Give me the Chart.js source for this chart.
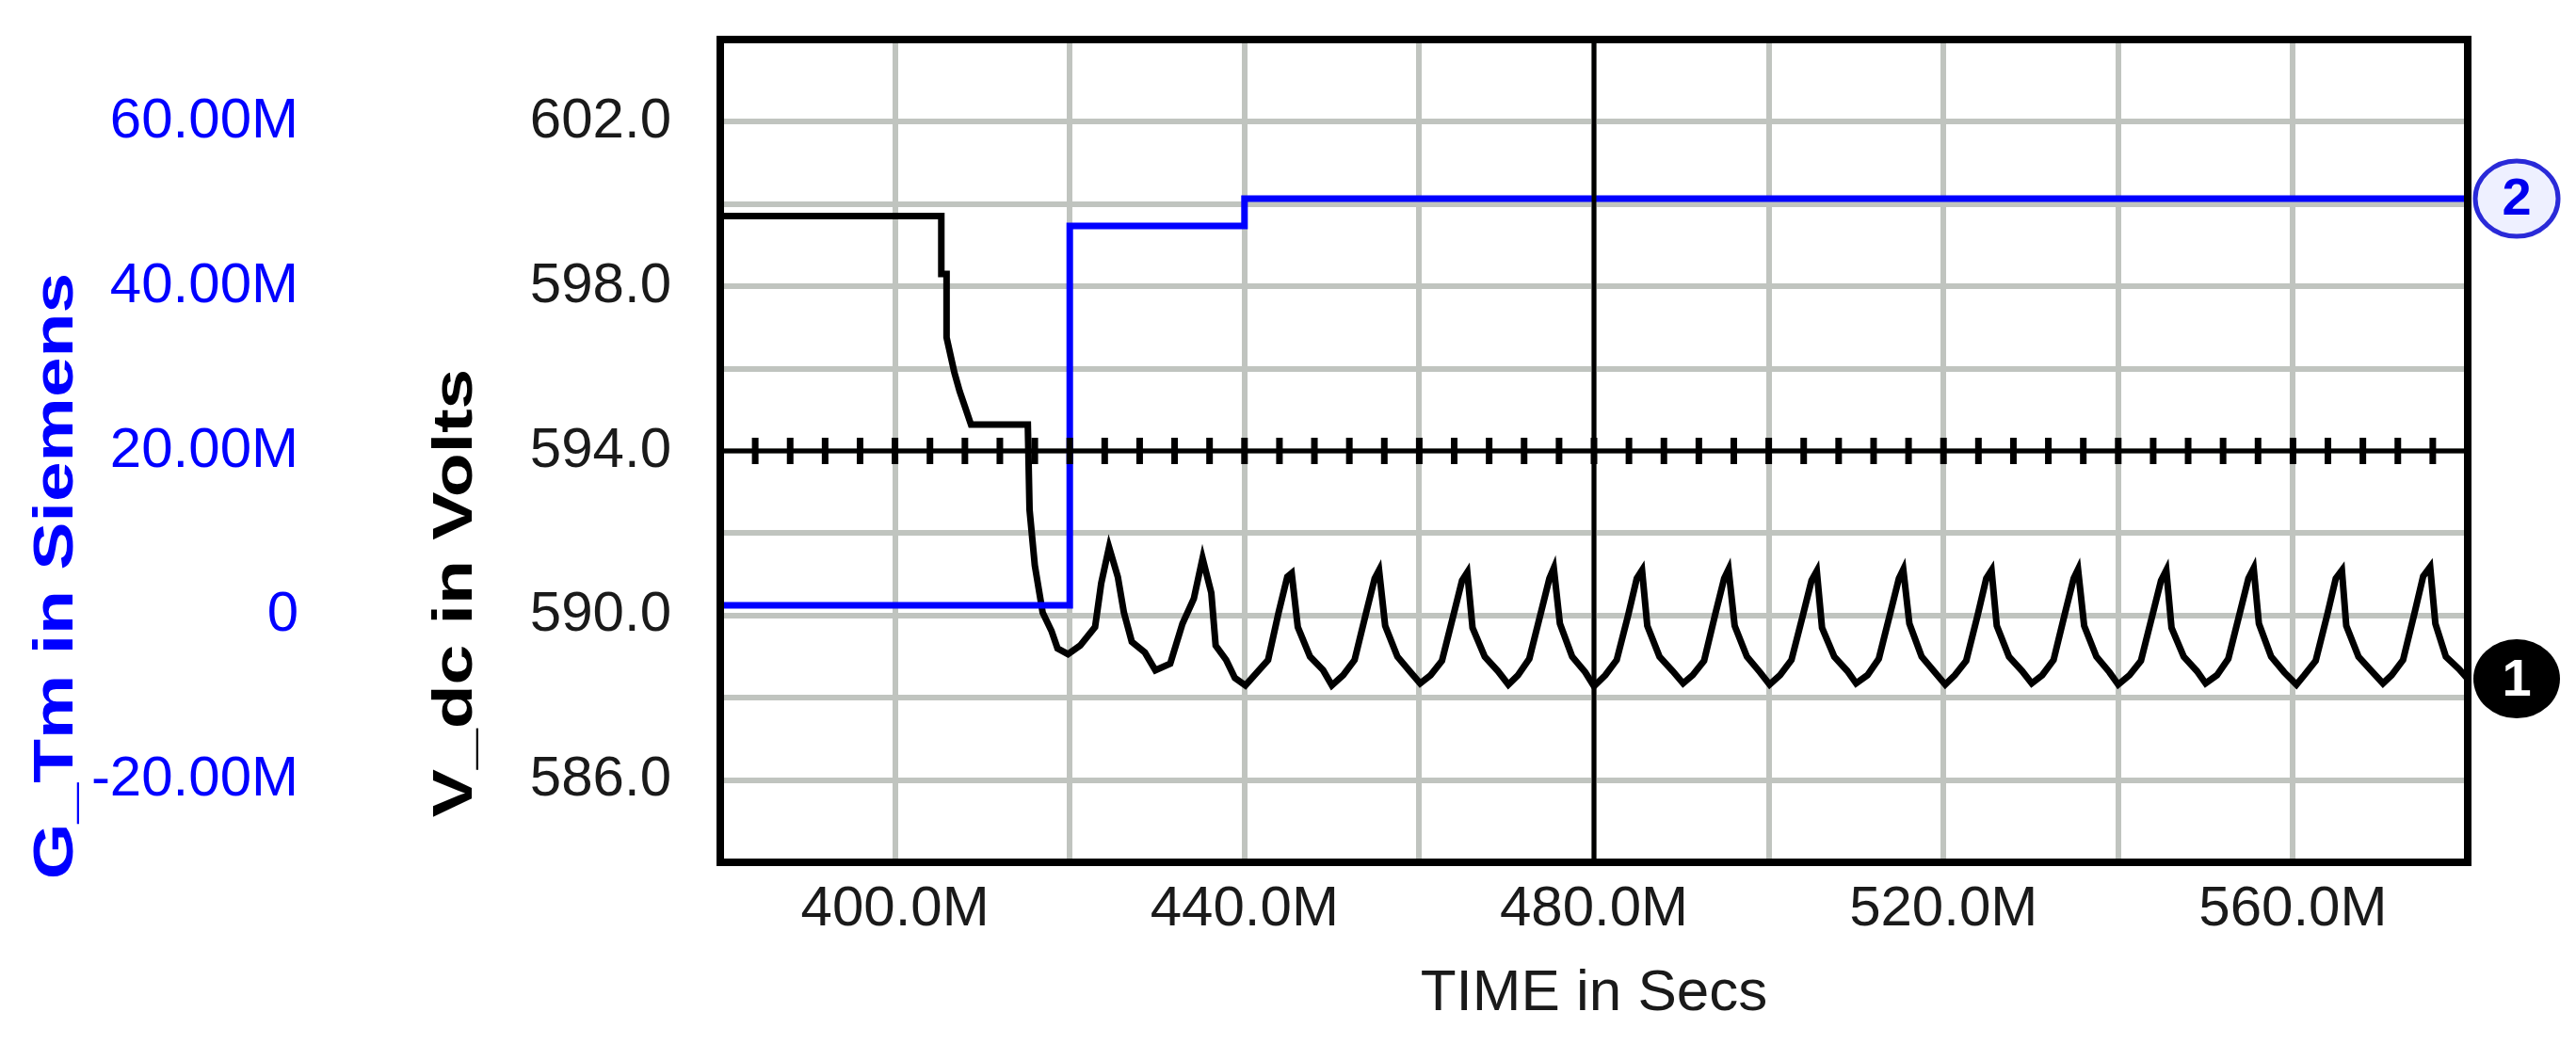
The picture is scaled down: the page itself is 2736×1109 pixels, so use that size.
<!DOCTYPE html>
<html>
<head>
<meta charset="utf-8">
<script src="https://cdn.jsdelivr.net/npm/chart.js@4/dist/chart.umd.min.js"></script>
<style>
  html, body { margin: 0; padding: 0; background: #fff; }
  #wrap { width: 2736px; height: 1109px; }
</style>
</head>
<body>
<div id="wrap"><canvas id="c"></canvas></div>
<script>
// time in ms (labelled "M"), V_dc in volts, G_Tm in M-siemens
var vdcTime = [380, 405.3, 405.3, 405.9, 405.9, 406.8, 407.4, 408.0, 408.7, 415.2, 415.4, 416.0, 416.9, 417.9, 418.6, 419.8, 421.2, 422.9, 423.6, 424.5, 425.5, 426.2, 427.1, 428.6, 429.8,
  431.5, 432.9, 434.2, 435.2, 436.2, 436.7, 437.9, 438.9, 440.1,
  442.7, 443.9, 444.9, 445.4, 446.1, 447.5, 449.0, 450.0,
  451.3, 452.6, 453.9, 454.9, 455.4, 456.1, 457.5, 459.0, 460.1,
  461.3, 462.6, 463.9, 464.9, 465.5, 466.1, 467.5, 469.0, 470.2,
  471.3, 472.6, 473.9, 474.9, 475.4, 476.1, 477.5, 479.0, 480.0,
  481.3, 482.6, 483.9, 484.9, 485.5, 486.1, 487.5, 489.0, 490.2,
  491.3, 492.6, 493.9, 494.9, 495.4, 496.1, 497.5, 499.0, 500.1,
  501.3, 502.6, 503.9, 504.9, 505.5, 506.1, 507.5, 509.0, 510.0,
  511.3, 512.6, 513.9, 514.9, 515.4, 516.1, 517.5, 519.0, 520.2,
  521.3, 522.6, 523.9, 524.9, 525.5, 526.1, 527.5, 529.0, 530.1,
  531.3, 532.6, 533.9, 534.9, 535.4, 536.1, 537.5, 539.0, 540.0,
  541.3, 542.6, 543.9, 544.9, 545.5, 546.1, 547.5, 549.0, 550.0,
  551.3, 552.6, 553.9, 554.9, 555.5, 556.1, 557.5, 559.0, 560.4,
  561.3, 562.6, 563.9, 564.9, 565.6, 566.1, 567.5, 569.0, 570.3,
  571.3, 572.6, 573.9, 574.9, 575.7, 576.3, 577.5, 579.0, 580];
var vdcValues = [599.71, 599.71, 598.3, 598.3, 596.76, 595.9, 595.45, 595.08, 594.64, 594.64, 592.57, 591.22, 590.07, 589.63, 589.2, 589.06, 589.27, 589.72, 590.78, 591.66, 590.94, 590.07, 589.36, 589.1, 588.67,
  588.83, 589.8, 590.41, 591.39, 590.55, 589.27, 588.92, 588.48, 588.3,
  588.92, 590.07, 590.94, 591.03, 589.72, 589.0, 588.67, 588.3,
  588.55, 588.92, 590.05, 590.9, 591.1, 589.75, 589.0, 588.62, 588.35,
  588.55, 588.9, 590.0, 590.85, 591.05, 589.7, 589.0, 588.65, 588.32,
  588.55, 588.95, 590.05, 590.9, 591.15, 589.8, 589.0, 588.62, 588.28,
  588.55, 588.92, 590.0, 590.9, 591.1, 589.75, 589.0, 588.65, 588.35,
  588.55, 588.9, 590.05, 590.9, 591.12, 589.75, 589.0, 588.62, 588.32,
  588.55, 588.92, 590.0, 590.85, 591.08, 589.7, 589.0, 588.65, 588.35,
  588.55, 588.95, 590.05, 590.9, 591.12, 589.8, 589.0, 588.62, 588.32,
  588.55, 588.9, 590.0, 590.9, 591.1, 589.75, 589.0, 588.65, 588.35,
  588.55, 588.92, 590.05, 590.9, 591.12, 589.75, 589.0, 588.62, 588.32,
  588.55, 588.9, 590.0, 590.85, 591.1, 589.7, 589.0, 588.65, 588.35,
  588.55, 588.95, 590.05, 590.9, 591.15, 589.8, 589.0, 588.62, 588.32,
  588.55, 588.9, 590.0, 590.9, 591.1, 589.75, 589.0, 588.65, 588.35,
  588.55, 588.92, 590.05, 590.95, 591.18, 589.8, 589.0, 588.7, 588.46];
var gTime = [380, 420.0, 420.0, 440.0, 440.0, 580];
var gValues = [1.24, 1.24, 47.35, 47.35, 50.66, 50.66];

var xGrid = [380, 400, 420, 440, 460, 480, 500, 520, 540, 560, 580];
var xLabels = [400, 440, 480, 520, 560];
var vGrid = [584, 586, 588, 590, 592, 594, 596, 598, 600, 602, 604];
var vLabels = [586, 590, 594, 598, 602];
var gLabels = [-20, 0, 20, 40, 60];
var cursorTime = 480;
var cursorVolts = 594;

var FONT = "'Liberation Sans', Arial, sans-serif";
var GRID = '#c0c4bf';

function toXY(xs, ys) {
  return xs.map(function (x, i) { return { x: x, y: ys[i] }; });
}
function noPad(s) { s.paddingTop = 0; s.paddingBottom = 0; s.paddingLeft = 0; s.paddingRight = 0; }

var decor = {
  id: 'decor',
  afterDatasetsDraw: function (chart) {
    var ctx = chart.ctx, a = chart.chartArea;
    var sx = chart.scales.x, sv = chart.scales.yV;
    ctx.save();
    // cursor cross
    ctx.strokeStyle = '#000';
    ctx.lineWidth = 5;
    var cx = sx.getPixelForValue(cursorTime), cy = sv.getPixelForValue(cursorVolts);
    ctx.beginPath();
    ctx.moveTo(cx, a.top); ctx.lineTo(cx, a.bottom);
    ctx.moveTo(a.left, cy); ctx.lineTo(a.right, cy);
    ctx.stroke();
    ctx.lineWidth = 7;
    ctx.beginPath();
    for (var t = 384; t < 580; t += 4) {
      var px = sx.getPixelForValue(t);
      ctx.moveTo(px, cy - 14); ctx.lineTo(px, cy + 14);
    }
    ctx.stroke();
    // frame
    ctx.lineWidth = 8;
    ctx.strokeRect(a.left, a.top, a.right - a.left, a.bottom - a.top);
    // end markers
    var m2y = chart.scales.yG.getPixelForValue(gValues[gValues.length - 1]);
    var m1y = sv.getPixelForValue(vdcValues[vdcValues.length - 1]);
    var mx = a.right + 52;
    ctx.beginPath(); ctx.ellipse(mx, m2y, 44, 40, 0, 0, Math.PI * 2);
    ctx.fillStyle = '#eef0ff'; ctx.fill();
    ctx.lineWidth = 5; ctx.strokeStyle = '#2a2ad8'; ctx.stroke();
    ctx.fillStyle = '#0000ee';
    ctx.font = 'bold 56px ' + FONT;
    ctx.textAlign = 'center'; ctx.textBaseline = 'middle';
    ctx.fillText('2', mx, m2y + 2);
    ctx.beginPath(); ctx.ellipse(mx, m1y, 46, 42, 0, 0, Math.PI * 2);
    ctx.fillStyle = '#000'; ctx.fill();
    ctx.fillStyle = '#fff';
    ctx.fillText('1', mx, m1y + 2);
    // axis titles
    ctx.font = 'bold 60px ' + FONT;
    ctx.fillStyle = '#0000ff';
    ctx.save(); ctx.translate(60, 612); ctx.rotate(-Math.PI / 2); ctx.scale(1.28, 1);
    ctx.fillText('G_Tm in Siemens', 0, 0); ctx.restore();
    ctx.fillStyle = '#000';
    ctx.save(); ctx.translate(484, 630); ctx.rotate(-Math.PI / 2); ctx.scale(1.28, 1);
    ctx.fillText('V_dc in Volts', 0, 0); ctx.restore();
    ctx.font = '62px ' + FONT;
    ctx.fillStyle = '#1a1a1a';
    ctx.fillText('TIME in Secs', (a.left + a.right) / 2, 1056);
    ctx.restore();
  }
};

new Chart(document.getElementById('c'), {
  type: 'line',
  data: {
    datasets: [
      { label: 'G_Tm', data: toXY(gTime, gValues), yAxisID: 'yG', borderColor: '#0000ff', borderWidth: 7, pointRadius: 0, tension: 0 },
      { label: 'V_dc', data: toXY(vdcTime, vdcValues), yAxisID: 'yV', borderColor: '#000', borderWidth: 7, pointRadius: 0, tension: 0 }
    ]
  },
  options: {
    responsive: true,
    maintainAspectRatio: false,
    animation: false,
    layout: { padding: { left: 0, right: 115, top: 42, bottom: 0 } },
    plugins: { legend: { display: false }, tooltip: { enabled: false } },
    scales: {
      x: {
        type: 'linear', min: 380, max: 580,
        afterBuildTicks: function (s) { s.ticks = xGrid.map(function (v) { return { value: v }; }); },
        afterFit: function (s) { s.height = 193; noPad(s); },
        grid: { color: GRID, lineWidth: 6, drawTicks: false },
        border: { color: '#000', width: 8 },
        ticks: {
          autoSkip: false, maxRotation: 0, padding: 14, color: '#1a1a1a', font: { family: FONT, size: 60 },
          callback: function (v) { return xLabels.indexOf(v) >= 0 ? v.toFixed(1) + 'M' : ''; }
        }
      },
      yV: {
        type: 'linear', position: 'left', weight: 0, min: 584, max: 604,
        afterBuildTicks: function (s) { s.ticks = vGrid.map(function (v) { return { value: v }; }); },
        afterFit: function (s) { s.width = 345; noPad(s); },
        grid: { color: GRID, lineWidth: 6, drawTicks: false },
        border: { color: '#000', width: 8 },
        ticks: {
          autoSkip: false, padding: 52, color: '#1a1a1a', font: { family: FONT, size: 60 },
          callback: function (v) { return vLabels.indexOf(v) >= 0 ? v.toFixed(1) : ''; }
        }
      },
      yG: {
        type: 'linear', position: 'left', weight: 1, min: -30, max: 70,
        afterBuildTicks: function (s) { s.ticks = gLabels.map(function (v) { return { value: v }; }); },
        afterFit: function (s) { s.width = 420; noPad(s); },
        grid: { display: false },
        border: { display: false },
        ticks: {
          autoSkip: false, padding: 95, color: '#0000ff', font: { family: FONT, size: 60 },
          callback: function (v) { return v === 0 ? '0' : v.toFixed(2) + 'M'; }
        }
      }
    }
  },
  plugins: [decor]
});
</script>
</body>
</html>
